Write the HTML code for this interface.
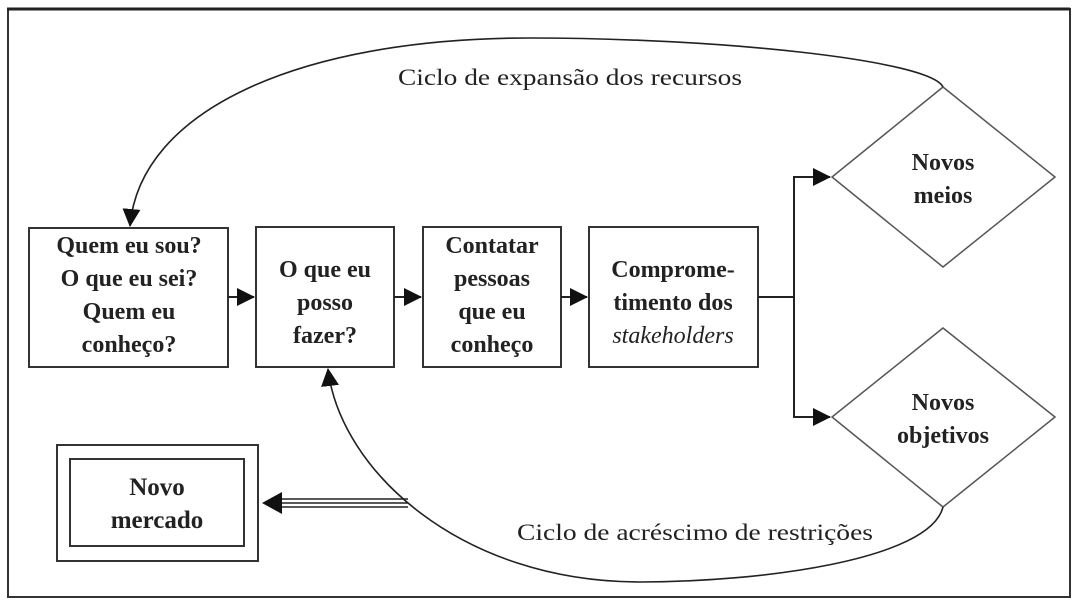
<!DOCTYPE html>
<html><head><meta charset="utf-8"><style>
html,body{margin:0;padding:0;background:#fff;}
svg{display:block}
text{font-family:"Liberation Serif",serif;font-weight:bold;font-size:24px;fill:#222;text-anchor:middle}
.n{font-weight:normal;font-size:23px}
</style></head><body>
<svg width="1075" height="602" viewBox="0 0 1075 602" xmlns="http://www.w3.org/2000/svg">
<defs><marker id="b" markerWidth="18" markerHeight="18" refX="17" refY="9" orient="auto" markerUnits="userSpaceOnUse"><path d="M0,0 L18,9 L0,18z" fill="#111"/></marker></defs>
<rect x="8" y="9" width="1062" height="588" fill="none" stroke="#333" stroke-width="2"/>
<line x1="7" y1="9" x2="1070" y2="9" stroke="#222" stroke-width="3"/>
<g fill="#fff" stroke="#333" stroke-width="2">
<rect x="29" y="228" width="199" height="139"/>
<rect x="256" y="227" width="138" height="140"/>
<rect x="423" y="227" width="138" height="140"/>
<rect x="589" y="227" width="169" height="140"/>
<rect x="57" y="445" width="201" height="116"/>
<rect x="70" y="459" width="174" height="87"/>
</g>
<g fill="none" stroke="#555" stroke-width="1.5">
<polygon points="943,87 1055,177 943,267 832,177"/>
<polygon points="943,328 1055,417 943,507 832,417"/>
</g>
<g stroke="#222" stroke-width="2" fill="none">
<line x1="228" y1="297" x2="254" y2="297" marker-end="url(#b)"/>
<line x1="394" y1="297" x2="421" y2="297" marker-end="url(#b)"/>
<line x1="561" y1="297" x2="587" y2="297" marker-end="url(#b)"/>
<polyline points="758,297 794,297 794,177 830,177" marker-end="url(#b)"/>
<polyline points="794,297 794,417 830,417" marker-end="url(#b)"/>
<path d="M943,87 C930,60 720,38 530,38 C300,38 140,110 130,226" stroke-width="1.6" marker-end="url(#b)"/>
<path d="M943,507 C930,560 760,582 640,582 C460,582 340,470 328,369" stroke-width="1.6" marker-end="url(#b)"/>
</g>
<g stroke="#222" stroke-width="1.5">
<line x1="280" y1="499" x2="408" y2="499"/>
<line x1="280" y1="503" x2="408" y2="503"/>
<line x1="280" y1="507" x2="408" y2="507"/>
</g>
<path d="M262,503 L282,492 L282,514z" fill="#111"/>
<text x="129" y="253">Quem eu sou?</text>
<text x="129" y="286">O que eu sei?</text>
<text x="129" y="319">Quem eu</text>
<text x="129" y="352">conheço?</text>
<text x="325" y="277">O que eu</text>
<text x="325" y="310">posso</text>
<text x="325" y="343">fazer?</text>
<text x="492" y="253">Contatar</text>
<text x="492" y="286">pessoas</text>
<text x="492" y="319">que eu</text>
<text x="492" y="352">conheço</text>
<text x="673" y="277">Comprome-</text>
<text x="673" y="310">timento dos</text>
<text x="673" y="343" style="font-style:italic;font-weight:normal">stakeholders</text>
<text x="943" y="170">Novos</text>
<text x="943" y="203">meios</text>
<text x="943" y="410">Novos</text>
<text x="943" y="443">objetivos</text>
<text x="157" y="495" style="font-size:25px">Novo</text>
<text x="157" y="528" style="font-size:25px">mercado</text>
<text class="n" x="570" y="85" textLength="344" lengthAdjust="spacingAndGlyphs">Ciclo de expansão dos recursos</text>
<text class="n" x="695" y="540" textLength="356" lengthAdjust="spacingAndGlyphs">Ciclo de acréscimo de restrições</text>
</svg>
</body></html>
